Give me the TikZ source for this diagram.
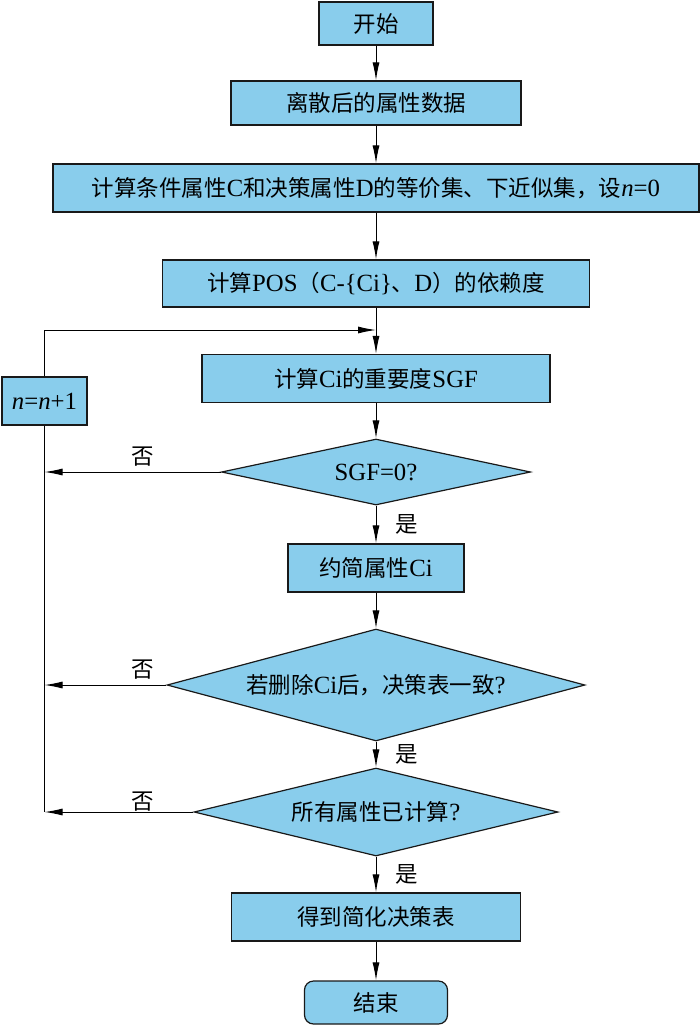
\documentclass[tikz,border=0pt]{standalone}
\usepackage{fontspec}
\setmainfont{Noto Sans CJK SC}
\newfontfamily\lat[Scale=1.1]{Liberation Serif}
\usetikzlibrary{shapes.geometric,arrows.meta}
\newcommand{\la}[1]{{\lat #1}}
\definecolor{boxblue}{RGB}{137,205,236}
\begin{document}
\begin{tikzpicture}[x=1pt,y=-1pt,
  font=\fontsize{22.5}{27}\selectfont,
  box/.style={draw=black!90, fill=boxblue, line width=1.2pt, inner sep=0pt, minimum height=48pt},
  dia/.style={diamond, draw=black!90, fill=boxblue, line width=1.2pt, inner sep=0pt},
  arr/.style={-{Latex[length=18pt,width=7pt]}, line width=1pt, draw=black},
  ln/.style={line width=1pt, draw=black},
  lab/.style={inner sep=0pt}]
\useasboundingbox (0,0) rectangle (700,1026);
\node[box, minimum width=114pt, minimum height=43pt] (start) at (376,23.5) {开始};
\node[box, minimum width=290pt, minimum height=44pt] (data) at (376,103) {离散后的属性数据};
\node[box, minimum width=646pt] (calc) at (376,188) {计算条件属性\la{C}和决策属性\la{D}的等价集、下近似集，设\la{\textit{n}=0}};
\node[box, minimum width=427pt, minimum height=47pt] (pos) at (376,283.5) {计算\la{POS}（\la{C-\{Ci\}}、\la{D}）的依赖度};
\node[box, minimum width=348pt] (ci) at (376,378.5) {计算\la{Ci}的重要度\la{SGF}};
\node[box, minimum width=85pt] (inc) at (44.5,401) {\la{\textit{n}=\textit{n}+1}};
\node[dia, shape aspect=4.68, minimum width=309pt, minimum height=66pt] (d1) at (376,472) {\la{SGF=0?}};
\node[box, minimum width=176pt] (red) at (376,568) {约简属性\la{Ci}};
\node[dia, shape aspect=3.73, minimum width=418pt, minimum height=112pt] (d2) at (376,685) {若删除\la{Ci}后，决策表一致\la{?}};
\node[dia, shape aspect=4.14, minimum width=364pt, minimum height=88pt] (d3) at (376,812) {所有属性已计算\la{?}};
\node[box, minimum width=289pt] (fin) at (376,917) {得到简化决策表};
\node[box, rounded corners=9pt, minimum width=143pt, minimum height=43pt] (end) at (376,1002.5) {结束};
\coordinate (j) at (376,330);
\draw[arr] (start) -- (data);
\draw[arr] (data) -- (calc);
\draw[arr] (calc) -- (pos);
\draw[arr] (pos) -- (ci);
\draw[arr] (inc.north) |- (j);
\draw[arr] (ci) -- (d1);
\draw[arr] (d1) -- (red) node[lab, midway, anchor=west, xshift=19pt] (y1) {是};
\draw[arr] (red) -- (d2);
\draw[arr] (d2) -- (d3) node[lab, midway, anchor=west, xshift=19pt] (y2) {是};
\draw[arr] (d3) -- (fin) node[lab, midway, anchor=west, xshift=19pt] (y3) {是};
\draw[arr] (fin) -- (end);
\draw[ln] (inc.south) -- (inc |- d3.west);
\draw[arr] (d1.west) -- (inc |- d1.west);
\draw[arr] (d2.west) -- (inc |- d2.west);
\draw[arr] (d3.west) -- (inc |- d3.west);
\node[lab] (n1) at (143,457) {否};
\node[lab] (n2) at (143,670) {否};
\node[lab] (n3) at (143,802) {否};
\end{tikzpicture}
\end{document}
